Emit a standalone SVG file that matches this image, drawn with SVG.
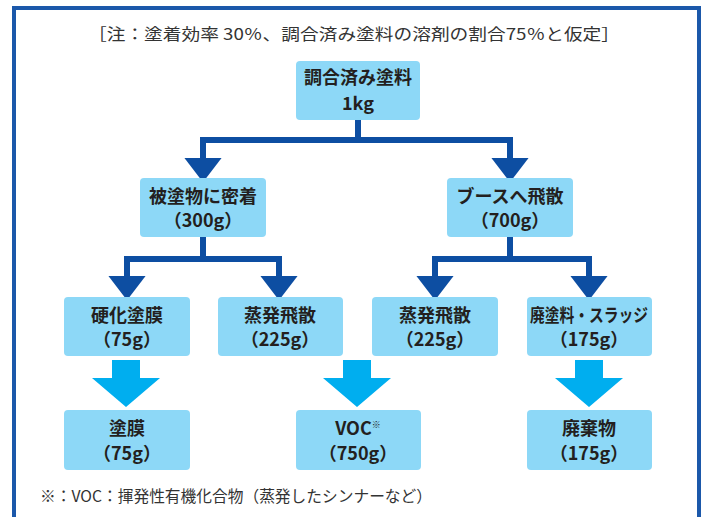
<svg xmlns="http://www.w3.org/2000/svg" xmlns:xlink="http://www.w3.org/1999/xlink" width="707" height="517" viewBox="0 0 707 517">
<style>
.box{fill:#8dd8f7;}
.t{font-family:"Noto Sans CJK JP","Noto Sans",sans-serif;font-weight:bold;font-size:18px;fill:#231f20;text-anchor:middle;}
.note{font-family:"Noto Sans CJK JP","Noto Sans",sans-serif;font-size:16px;fill:#333;}
.con{fill:none;stroke:#0d4ea2;stroke-width:6;marker-end:url(#ah);}
.big{fill:#00aeef;}
</style>
<defs>
<marker id="ah" markerUnits="userSpaceOnUse" markerWidth="40" markerHeight="40" viewBox="-1 -14 20 28" refX="0" refY="0" orient="auto" overflow="visible">
<path d="M0,-13 L17,0 L0,13 Z" fill="#0d4ea2"/>
</marker>
<polygon id="bigarrow" points="-14,0 14,0 14,18 34,18 0,47 -34,18 -14,18"/>
</defs>
<rect x="14" y="8" width="685" height="530" fill="none" stroke="#1b58aa" stroke-width="4"/>
<text class="note" x="354" y="40" text-anchor="middle" textLength="532" lengthAdjust="spacingAndGlyphs">［注：塗着効率 30％、調合済み塗料の溶剤の割合75％と仮定］</text>

<g id="connectors">
<path class="con" d="M358,120 V140 H203 V158"/>
<path class="con" d="M358,140 H510 V158"/>
<path class="con" d="M203,237 V259 H127 V276"/>
<path class="con" d="M203,259 H279 V276"/>
<path class="con" d="M510,237 V259 H435 V276"/>
<path class="con" d="M510,259 H589 V276"/>
<use xlink:href="#bigarrow" class="big" x="126" y="360"/>
<use xlink:href="#bigarrow" class="big" x="357" y="360"/>
<use xlink:href="#bigarrow" class="big" x="589" y="360"/>
</g>

<g id="n-top"><rect class="box" x="296" y="61" width="124" height="59" rx="4"/><text class="t" x="358" y="84">調合済み塗料</text><text class="t" x="358" y="110">1kg</text></g>
<g id="n-adhere"><rect class="box" x="140" y="178" width="126" height="59" rx="4"/><text class="t" x="203" y="203">被塗物に密着</text><text class="t" x="203" y="227">（300g）</text></g>
<g id="n-booth"><rect class="box" x="447" y="178" width="126" height="59" rx="4"/><text class="t" x="510" y="203">ブースへ飛散</text><text class="t" x="510" y="227">（700g）</text></g>
<g id="n-cure"><rect class="box" x="64" y="297" width="126" height="59" rx="4"/><text class="t" x="127" y="322">硬化塗膜</text><text class="t" x="127" y="346">（75g）</text></g>
<g id="n-evap1"><rect class="box" x="218" y="297" width="125" height="59" rx="4"/><text class="t" x="280" y="322">蒸発飛散</text><text class="t" x="280" y="346">（225g）</text></g>
<g id="n-evap2"><rect class="box" x="372" y="297" width="126" height="59" rx="4"/><text class="t" x="435" y="322">蒸発飛散</text><text class="t" x="435" y="346">（225g）</text></g>
<g id="n-sludge"><rect class="box" x="527" y="297" width="125" height="59" rx="4"/><text class="t" x="589" y="322" textLength="118" lengthAdjust="spacingAndGlyphs">廃塗料・スラッジ</text><text class="t" x="589" y="346">（175g）</text></g>
<g id="n-film"><rect class="box" x="64" y="410" width="126" height="60" rx="4"/><text class="t" x="127" y="435">塗膜</text><text class="t" x="127" y="460">（75g）</text></g>
<g id="n-voc"><rect class="box" x="296" y="410" width="125" height="60" rx="4"/><text class="t" x="358" y="435">VOC<tspan font-size="9" font-weight="normal" dy="-7">※</tspan></text><text class="t" x="358" y="460">（750g）</text></g>
<g id="n-waste"><rect class="box" x="527" y="410" width="125" height="60" rx="4"/><text class="t" x="589" y="435">廃棄物</text><text class="t" x="589" y="460">（175g）</text></g>

<text class="note" x="40" y="502" font-size="15" textLength="392" lengthAdjust="spacingAndGlyphs">※：VOC：揮発性有機化合物（蒸発したシンナーなど）</text>
</svg>
